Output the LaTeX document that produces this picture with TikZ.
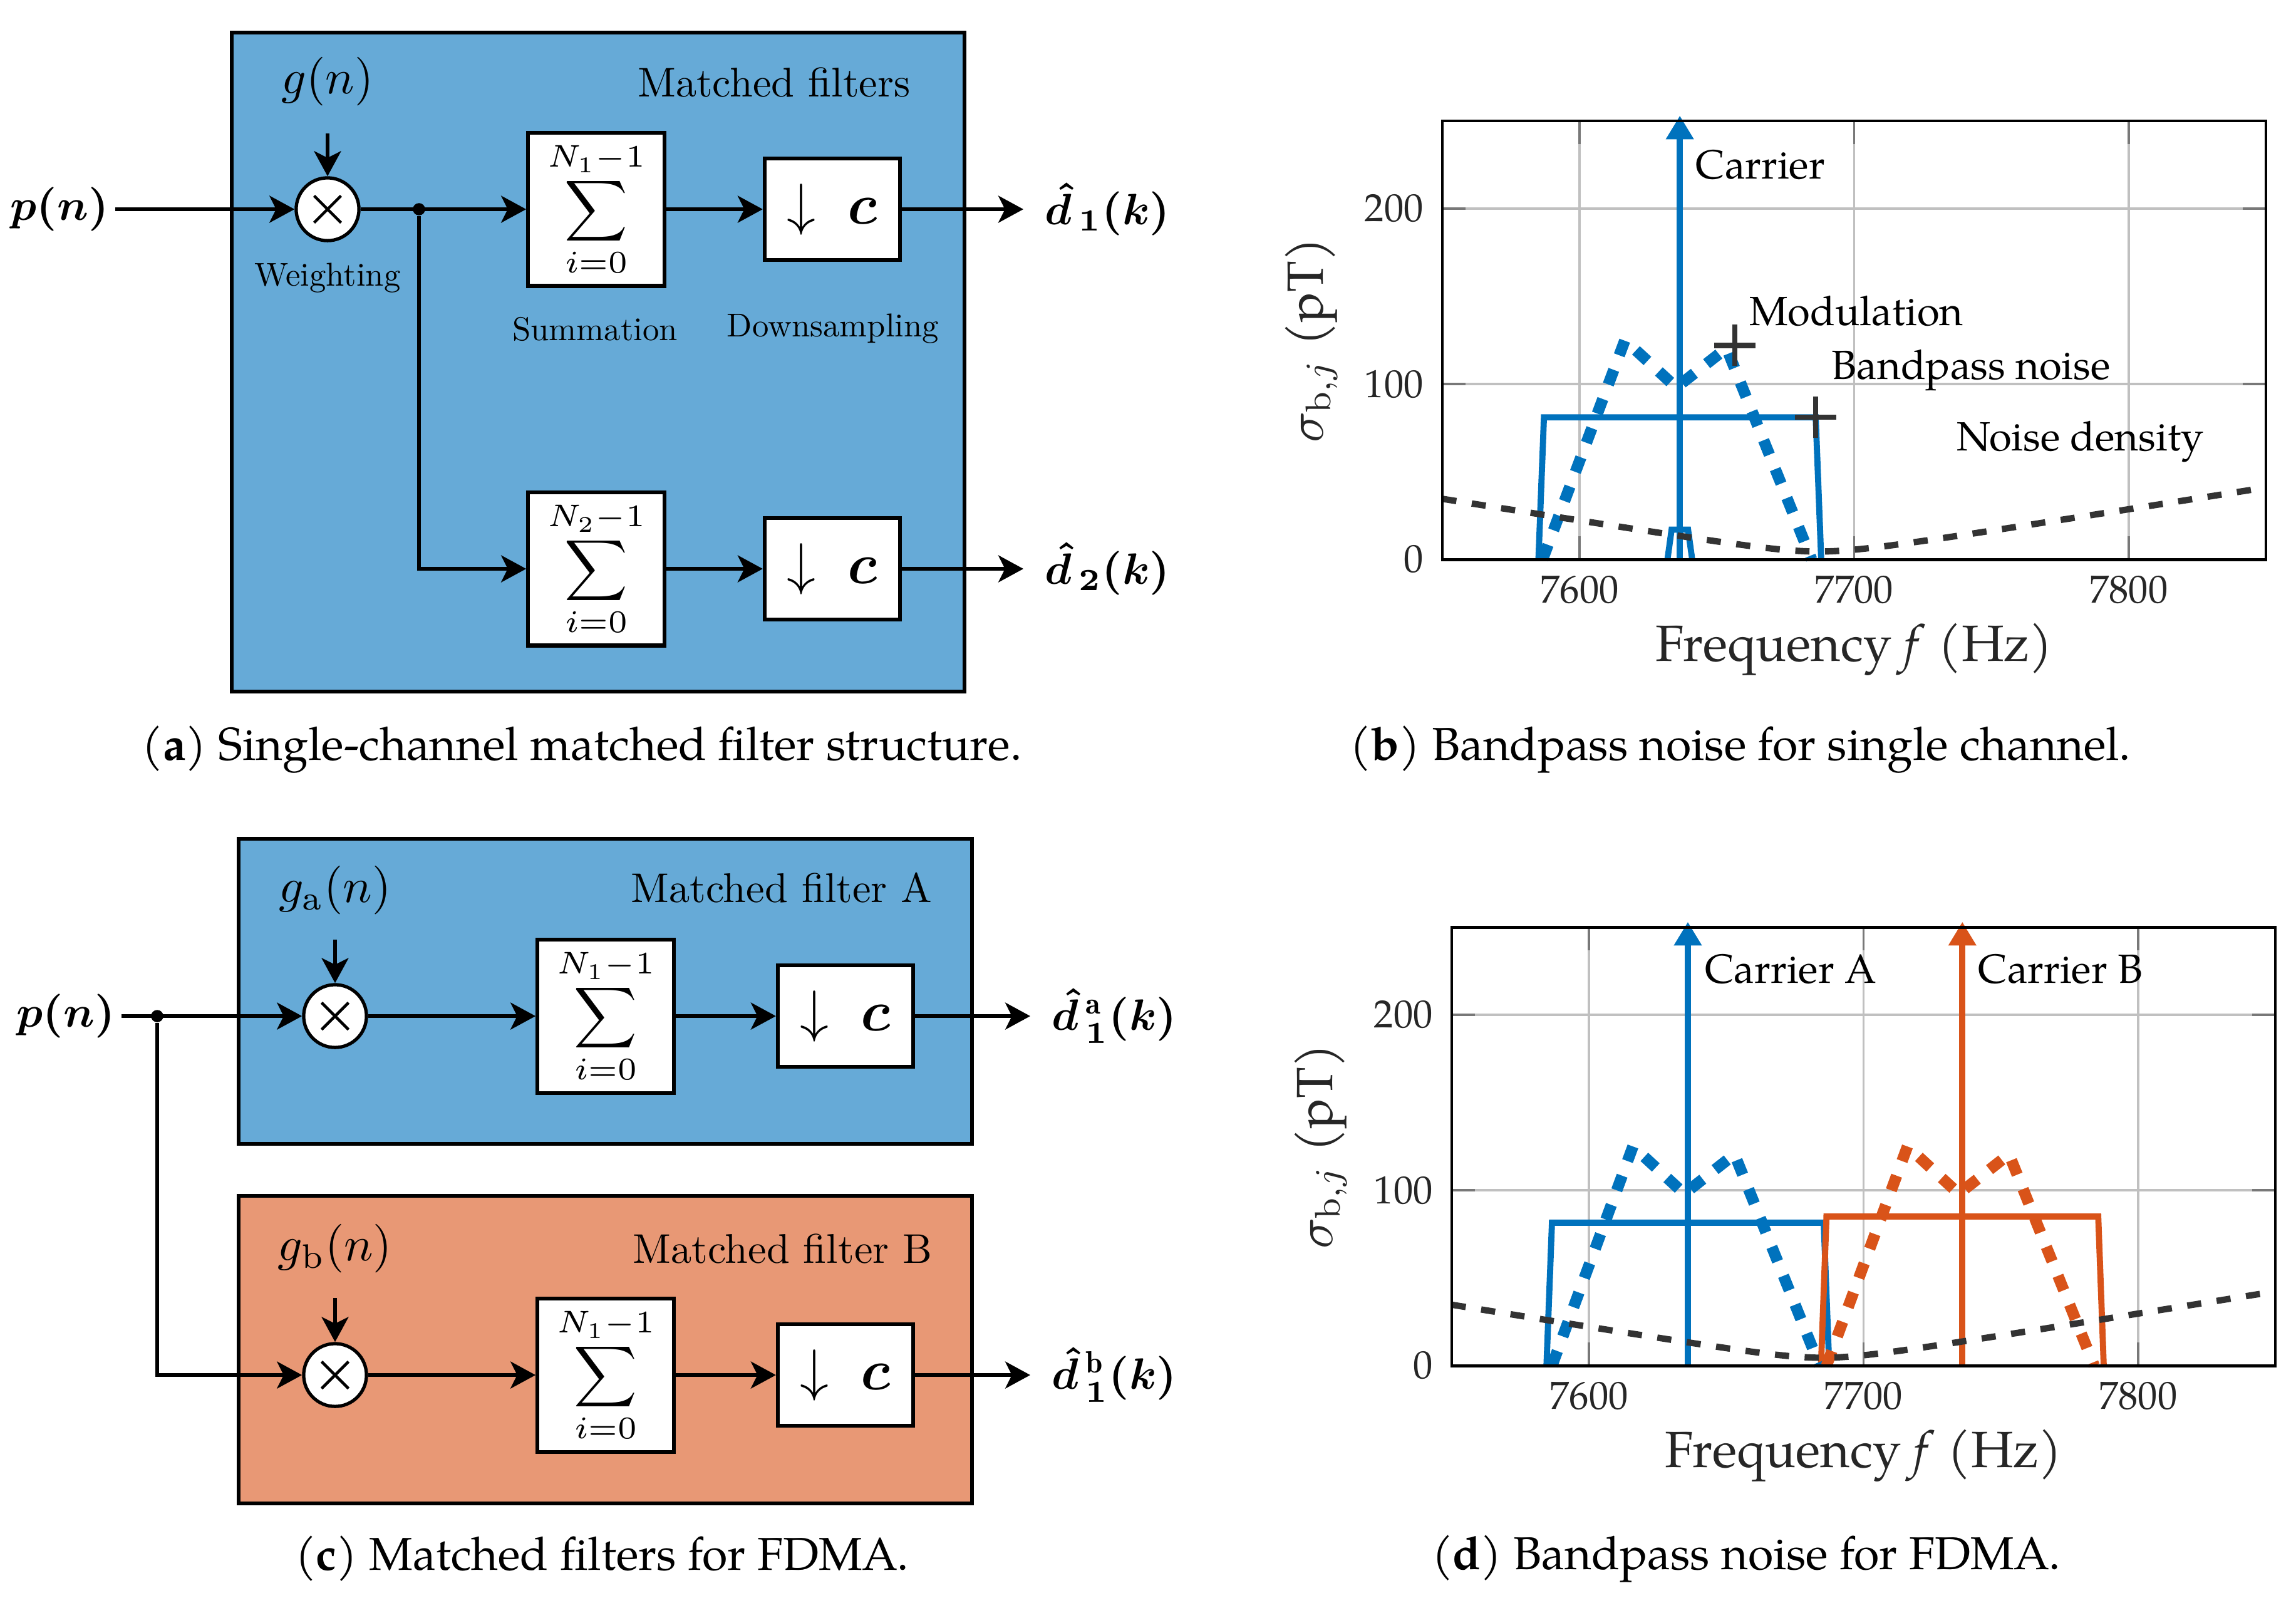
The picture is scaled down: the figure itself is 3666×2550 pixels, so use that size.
\RequirePackage{fix-cm}
\documentclass[tikz,border=0pt]{standalone}
\usepackage{amsmath}
\usepackage{fontspec}
\newfontfamily\pal{TeX Gyre Pagella}
\newfontfamily\lmten{lmroman10-regular}[Extension=.otf]
\usetikzlibrary{arrows.meta}
\definecolor{mblue}{RGB}{0,114,189}
\definecolor{morange}{RGB}{217,83,25}
\definecolor{ndark}{RGB}{51,51,51}
\definecolor{gridc}{RGB}{192,192,192}
\definecolor{tickc}{RGB}{120,120,120}
\definecolor{axtext}{RGB}{38,38,38}
\colorlet{bluefill}{mblue!60}
\colorlet{salmonfill}{morange!60}
\tikzset{
  conn/.style={line width=0.75pt, -{Stealth[length=5.3pt,width=5.7pt,inset=1.4pt]}},
  frame/.style={draw, line width=0.9pt},
  blk/.style={draw, fill=white, line width=0.8pt, inner sep=0pt},
  sumbox/.style={blk, minimum width=28.9pt, minimum height=32.5pt, font=\fontsize{9.5}{11}\selectfont},
  dsbox/.style={blk, minimum width=28.7pt, minimum height=21.6pt, font=\fontsize{12.2}{14}\selectfont},
  mult/.style={circle, draw, fill=white, line width=0.7pt, minimum size=13.3pt, inner sep=0pt,
    path picture={\draw[line width=0.6pt] (path picture bounding box.center) +(-2.85pt,-2.85pt) -- +(2.85pt,2.85pt)
      (path picture bounding box.center) +(-2.85pt,2.85pt) -- +(2.85pt,-2.85pt);}},
  dot/.style={circle, fill, inner sep=0pt, minimum size=2.6pt},
  mathlbl/.style={font=\fontsize{10.3}{12}\selectfont, inner sep=0pt},
  boldlbl/.style={font=\fontsize{9.3}{11}\selectfont\boldmath, inner sep=0pt},
  titlelbl/.style={font=\lmten\fontsize{8.8}{10}\selectfont, inner sep=0pt},
  smalllbl/.style={font=\lmten\fontsize{7}{8}\selectfont, inner sep=0pt},
  captionlbl/.style={font=\pal\fontsize{9.77}{12}\selectfont, inner sep=0pt},
  gridl/.style={gridc, line width=0.5pt},
  tickl/.style={tickc, line width=0.5pt},
  axisl/.style={black, line width=0.65pt},
  bl/.style={mblue, line width=1.3pt},
  ol/.style={morange, line width=1.3pt},
  modl/.style={line width=2.4pt, dash pattern=on 3.3pt off 3.3pt},
  noisel/.style={ndark, line width=1.35pt, dash pattern=on 3pt off 3.3pt},
  markl/.style={ndark, line width=1.1pt},
  carr/.style={-{Triangle[length=5pt,width=5.6pt]}},
  ticklbl/.style={font=\pal\fontsize{8.3}{10}\selectfont, text=axtext, inner sep=0pt},
  axlbl/.style={font=\pal\fontsize{10.8}{13}\selectfont, text=axtext, inner sep=0pt},
  annot/.style={font=\pal\fontsize{8.65}{10}\selectfont, inner sep=0pt, anchor=west},
}
\newcommand{\axesframe}{%
  \foreach \f in {50,150,250} {\draw[gridl] (\f,0) -- (\f,250);}
  \foreach \v in {100,200} {\draw[gridl] (0,\v) -- (300,\v);}
  \foreach \f in {50,150,250} {\draw[tickl] (\f,0) -- (\f,13.2); \draw[tickl] (\f,250) -- (\f,236.8);}
  \foreach \v in {100,200} {\draw[tickl] (0,\v) -- (8.44,\v); \draw[tickl] (300,\v) -- (291.56,\v);}
  \node[ticklbl, anchor=east] (t0) at (-6.6,0) {0};
  \node[ticklbl, anchor=east] (t1) at (-6.6,100) {100};
  \node[ticklbl, anchor=east] (t2) at (-6.6,200) {200};
  \node[ticklbl] (f1) at (50,-17.4) {7600};
  \node[ticklbl] (f2) at (150,-17.4) {7700};
  \node[ticklbl] (f3) at (250,-17.4) {7800};
  \node[axlbl] (xl) at (150,-51.4) {Frequency \textit{f} (Hz)};
  \node[axlbl, rotate=90] (yl) at (-47.7,125) {$\sigma_{\mathrm{b},j}$ (pT)};
}
\begin{document}
\begin{tikzpicture}[x=0.1327pt, y=-0.1327pt]
\useasboundingbox (0,0) rectangle (3666,2550);

% ---------------- panel (a) ----------------
\draw[frame, fill=bluefill] (370,52) rectangle (1540,1104);
\node[boldlbl, inner xsep=1.2pt] (pa) at (95,334) {$p(n)$};
\node[mult] (ma) at (523,334) {};
\node[mathlbl] (ga) at (523,130) {$g(n)$};
\coordinate (gsa) at (523,213);
\node[smalllbl] (wa) at (523,444) {Weighting};
\node[dot] (ja) at (669,334) {};
\node[sumbox] (s1) at (952,334) {$\displaystyle\sum_{i=0}^{N_1-1}$};
\node[dsbox] (d1) at (1329,334) {$\downarrow\;\boldsymbol{c}$};
\node[smalllbl] (sl) at (950,525) {Summation};
\node[smalllbl] (dl) at (1330,525) {Downsampling};
\node[titlelbl, anchor=east] (mfa) at (1455,131) {Matched filters};
\node[sumbox] (s2) at (952,908) {$\displaystyle\sum_{i=0}^{N_2-1}$};
\node[dsbox] (d2) at (1329,908) {$\downarrow\;\boldsymbol{c}$};
\node[boldlbl, anchor=west, inner xsep=4.4pt] (o1) at (1634,334) {${\hat{d}}_{\,1}(k)$};
\node[boldlbl, anchor=west, inner xsep=4.4pt] (o2) at (1634,908) {${\hat{d}}_{\,2}(k)$};
\draw[conn] (pa) -- (ma);
\draw[conn] (gsa) -- (ma);
\draw[conn] (ma) -- (s1);
\draw[conn] (ja) |- (s2);
\draw[conn] (s1) -- (d1);
\draw[conn] (s2) -- (d2);
\draw[conn] (d1) -- (o1);
\draw[conn] (d2) -- (o2);
\node[captionlbl] (capa) at (929,1196) {(\textbf{a}) Single-channel matched filter structure.};

% ---------------- panel (c) ----------------
\draw[frame, fill=bluefill] (381,1339) rectangle (1552,1826);
\draw[frame, fill=salmonfill] (381,1909) rectangle (1552,2400);
\node[boldlbl, inner xsep=1.2pt] (pc) at (105,1622) {$p(n)$};
\node[dot] (jc) at (251,1622) {};
\node[mult] (mA) at (535,1622) {};
\node[mathlbl] (gA) at (535,1421) {$g_{\mathrm{a}}(n)$};
\coordinate (gsA) at (535,1500);
\node[sumbox] (sA) at (967,1622) {$\displaystyle\sum_{i=0}^{N_1-1}$};
\node[dsbox] (dA) at (1350,1622) {$\downarrow\;\boldsymbol{c}$};
\node[titlelbl, anchor=east] (mfA) at (1490,1417) {Matched filter A};
\node[boldlbl, anchor=west, inner xsep=4.4pt] (oA) at (1645,1622) {${\hat{d}}^{\,\mathrm{a}}_{\,1}(k)$};
\node[mult] (mB) at (535,2195) {};
\node[mathlbl] (gB) at (535,1993) {$g_{\mathrm{b}}(n)$};
\coordinate (gsB) at (535,2072);
\node[sumbox] (sB) at (967,2195) {$\displaystyle\sum_{i=0}^{N_1-1}$};
\node[dsbox] (dB) at (1350,2195) {$\downarrow\;\boldsymbol{c}$};
\node[titlelbl, anchor=east] (mfB) at (1490,1993) {Matched filter B};
\node[boldlbl, anchor=west, inner xsep=4.4pt] (oB) at (1645,2195) {${\hat{d}}^{\,\mathrm{b}}_{\,1}(k)$};
\draw[conn] (pc) -- (mA);
\draw[conn] (jc) |- (mB);
\draw[conn] (gsA) -- (mA);
\draw[conn] (gsB) -- (mB);
\draw[conn] (mA) -- (sA);
\draw[conn] (mB) -- (sB);
\draw[conn] (sA) -- (dA);
\draw[conn] (sB) -- (dB);
\draw[conn] (dA) -- (oA);
\draw[conn] (dB) -- (oB);
\node[captionlbl] (capc) at (961,2488) {(\textbf{c}) Matched filters for FDMA.};

% ---------------- panel (b) ----------------
\begin{scope}[shift={(2303,893)}, xscale=4.383, yscale=-2.8]
  \axesframe
  \def\cA{86.5}
  \draw[bl] (\cA-51.5,0) -- (\cA-49.5,81) -- (\cA+49.5,81) -- (\cA+51.5,0);
  \draw[bl, carr] (\cA,0) -- (\cA,253);
  \draw[bl] (\cA-4.5,0) -- (\cA-3,17) -- (\cA+3,17) -- (\cA+4.5,0);
  \draw[mblue, modl] (\cA-50,0) -- (\cA-20,125) -- (\cA-1.3,98) -- (\cA+17,120.5) -- (\cA+48,0);
  \draw[noisel] plot[domain=0:300, samples=80, smooth] (\x,{sqrt((0.25*(\x-137))^2+20.25)});
  \draw[markl] (\cA+12.5,122) -- (\cA+27.5,122) (\cA+20,110.2) -- (\cA+20,133.8);
  \draw[markl] (\cA+42,81) -- (\cA+57,81) (\cA+49.5,69.2) -- (\cA+49.5,92.8);
  \draw[axisl] (0,0) rectangle (300,250);
  \node[annot] (cb) at (92,225) {Carrier};
  \node[annot] (mb) at (111.5,141.8) {Modulation};
  \node[annot] (bb) at (141.5,108) {Bandpass noise};
  \node[annot] (nb) at (187,67.1) {Noise density};
\end{scope}
\node[captionlbl] (capb) at (2779,1196) {(\textbf{b}) Bandpass noise for single channel.};

% ---------------- panel (d) ----------------
\begin{scope}[shift={(2318,2180)}, xscale=4.383, yscale=-2.8]
  \axesframe
  \def\cA{86}
  \def\cB{186}
  \draw[bl] (\cA-51.5,0) -- (\cA-49.5,81.5) -- (\cA+49.5,81.5) -- (\cA+51.5,0);
  \draw[ol] (\cB-51.5,0) -- (\cB-49.5,85) -- (\cB+49.5,85) -- (\cB+51.5,0);
  \draw[bl, carr] (\cA,0) -- (\cA,253);
  \draw[ol, carr] (\cB,0) -- (\cB,253);
  \draw[mblue, modl] (\cA-49.5,0) -- (\cA-20,125) -- (\cA-1.3,98) -- (\cA+17,120.5) -- (\cA+48,0);
  \draw[morange, modl] (\cB-49.5,0) -- (\cB-20,125) -- (\cB-1.3,98) -- (\cB+17,120.5) -- (\cB+48,0);
  \draw[noisel] plot[domain=0:300, samples=80, smooth] (\x,{sqrt((0.255*(\x-135))^2+20.25)});
  \draw[axisl] (0,0) rectangle (300,250);
  \node[annot] (ca) at (92,226) {Carrier A};
  \node[annot] (cbb) at (191.5,226) {Carrier B};
\end{scope}
\node[captionlbl] (capd) at (2788,2488) {(\textbf{d}) Bandpass noise for FDMA.};
\end{tikzpicture}
\end{document}
